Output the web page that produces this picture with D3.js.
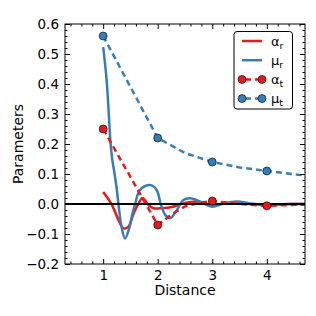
<!DOCTYPE html>
<html>
<head>
<meta charset="utf-8">
<script src="https://cdn.jsdelivr.net/npm/d3@7"></script>
<style>
  body { margin:0; background:#fff; }
  svg text { font-family:"DejaVu Sans", sans-serif; fill:#000; }
</style>
</head>
<body>
<div id="chart"></div>
<script>
// solid curves
var alphaR = [[1.0,0.04],[1.08,0.02],[1.16,-0.003],[1.28,-0.053],[1.37,-0.081],[1.46,-0.076],
              [1.56,-0.031],[1.65,0.002],[1.72,0.02],[1.83,-0.003],[1.92,-0.014],[2.08,-0.014],
              [2.26,-0.01],[2.47,0.002],[2.72,0.008],[2.96,-0.003],[3.27,0.002],[3.6,0.001],
              [4.0,-0.002],[4.4,0],[4.7,0]]
var muR    = [[1.0,0.523],[1.06,0.42],[1.10,0.31],[1.13,0.215],[1.165,0.15],[1.205,0.105],
              [1.245,0.055],[1.28,0.0],[1.33,-0.07],[1.40,-0.115],[1.48,-0.08],[1.53,-0.037],[1.59,0.003],
              [1.66,0.043],[1.77,0.06],[1.89,0.062],[1.985,0.045],[2.06,-0.003],[2.14,-0.037],
              [2.23,-0.047],[2.35,-0.02],[2.47,0.013],[2.60,0.019],[2.78,0.008],[2.99,-0.009],
              [3.21,0.002],[3.45,0.008],[3.70,0.002],[3.88,-0.003],[4.16,-0.003],[4.43,0],[4.7,0]]
// dashed curves
var alphaTLine = [[1,0.25],[2,-0.07],[2.25,-0.035],[2.5,-0.008],[2.75,0.003],[3,0.01],[3.5,0.0],[4,-0.006],[4.7,-0.002]]
var muTLine    = [[1,0.56],[2,0.22],[2.5,0.17],[3,0.14],[3.5,0.122],[4,0.11],[4.7,0.095]]
// markers
var distances = [1, 2, 3, 4]
var alphaT = [0.25, -0.07, 0.01, -0.006]
var muT    = [0.56, 0.22, 0.14, 0.11]

var xTicks = [1, 2, 3, 4]
var yTicks = [-0.2, -0.1, 0.0, 0.1, 0.2, 0.3, 0.4, 0.5, 0.6]

var red  = '#e41a1c'
var blue = '#377eb8'

var W = 316, H = 316
var m = { top:24, right:11, bottom:52, left:65 }

var svg = d3.select('#chart').append('svg')
    .attr('width', W).attr('height', H)

var x = d3.scaleLinear().domain([0.3, 4.7]).range([m.left, W-m.right])
var y = d3.scaleLinear().domain([-0.2, 0.6]).range([H-m.bottom, m.top])

var line = d3.line().x(d=> x(d[0])).y(d=> y(d[1]))
var smooth = d3.line().x(d=> x(d[0])).y(d=> y(d[1])).curve(d3.curveCatmullRom.alpha(0.5))

svg.append('clipPath').attr('id', 'clip')
  .append('rect')
    .attr('x', m.left).attr('y', m.top)
    .attr('width', W-m.left-m.right).attr('height', H-m.top-m.bottom)

var box = svg.append('g').attr('clip-path', 'url(#clip)')

box.append('path').datum(alphaR)
    .attr('d', smooth).attr('fill', 'none')
    .attr('stroke', red).attr('stroke-width', 2.5)
box.append('path').datum(muR)
    .attr('d', smooth).attr('fill', 'none')
    .attr('stroke', blue).attr('stroke-width', 2.5)

box.append('path').datum(alphaTLine)
    .attr('d', line).attr('fill', 'none')
    .attr('stroke', red).attr('stroke-width', 2.5)
    .attr('stroke-dasharray', '6 4')
box.append('path').datum(muTLine)
    .attr('d', line).attr('fill', 'none')
    .attr('stroke', blue).attr('stroke-width', 2.5)
    .attr('stroke-dasharray', '6 4')

// zero line
box.append('line')
    .attr('x1', m.left).attr('x2', W-m.right)
    .attr('y1', y(0)).attr('y2', y(0))
    .attr('stroke', '#000').attr('stroke-width', 2)

function dots(vals, c) {
    box.selectAll(null).data(vals).enter().append('circle')
        .attr('cx', (d,i)=> x(distances[i]))
        .attr('cy', d=> y(d))
        .attr('r', 4)
        .attr('fill', c)
        .attr('stroke', '#000').attr('stroke-width', 0.6)
}
dots(alphaT, red)
dots(muT, blue)

// axes: ticks inward on all four sides
var xMinor = d3.range(0.4, 4.71, 0.2).filter(v=> Math.abs(v - Math.round(v)) > 0.01)
var yMinor = d3.range(-0.2, 0.601, 0.02).filter(v=> Math.abs(v*10 - Math.round(v*10)) > 0.01)

function addAxis(gen, tr, major, minor, labels) {
    var g = svg.append('g').attr('transform', tr)
    g.call(gen.scale(major.scale).tickValues(minor).tickSize(-2.5).tickFormat(''))
    g.select('.domain').remove()
    var g2 = svg.append('g').attr('transform', tr)
    g2.call(gen.scale(major.scale).tickValues(major.values).tickSize(-5)
        .tickPadding(labels ? 6 : 0)
        .tickFormat(labels ? major.fmt : ''))
    g2.select('.domain').remove()
    g2.selectAll('text').attr('font-size', '13.5px')
    svg.selectAll('.tick line').attr('stroke', '#000')
}
addAxis(d3.axisBottom(), 'translate(0,'+(H-m.bottom)+')', { scale:x, values:xTicks, fmt:d3.format('d') }, xMinor, true)
addAxis(d3.axisTop(),    'translate(0,'+m.top+')',        { scale:x, values:xTicks }, xMinor, false)
addAxis(d3.axisLeft(),   'translate('+m.left+',0)',       { scale:y, values:yTicks, fmt:d=> d3.format('.1f')(d).replace('-', '\u2212') }, yMinor, true)
addAxis(d3.axisRight(),  'translate('+(W-m.right)+',0)',  { scale:y, values:yTicks }, yMinor, false)

svg.append('rect')
    .attr('x', m.left).attr('y', m.top)
    .attr('width', W-m.left-m.right).attr('height', H-m.top-m.bottom)
    .attr('fill', 'none').attr('stroke', '#000').attr('stroke-width', 1)

svg.append('text')
    .attr('x', (m.left + W-m.right)/2).attr('y', 295)
    .attr('text-anchor', 'middle').attr('font-size', '14px')
    .text('Distance')
svg.append('text')
    .attr('transform', 'translate(23,'+((m.top + H-m.bottom)/2)+') rotate(-90)')
    .attr('text-anchor', 'middle').attr('font-size', '14px')
    .text('Parameters')

// legend
var legend = [
    { name:'\u03b1', sub:'r', c:red,  marker:false },
    { name:'\u03bc', sub:'r', c:blue, marker:false },
    { name:'\u03b1', sub:'t', c:red,  marker:true },
    { name:'\u03bc', sub:'t', c:blue, marker:true }
]
var lg = svg.append('g')
lg.append('rect')
    .attr('x', 234).attr('y', 31.5).attr('width', 58.5).attr('height', 77.5)
    .attr('rx', 3).attr('fill', '#fff')
    .attr('stroke', '#000').attr('stroke-width', 1)
legend.forEach(function(d, i) {
    var ly = 41 + i*19.2
    lg.append('line')
        .attr('x1', 242).attr('x2', 262).attr('y1', ly).attr('y2', ly)
        .attr('stroke', d.c).attr('stroke-width', 2.5)
        .attr('stroke-dasharray', d.marker ? '6 4' : null)
        .attr('stroke-dashoffset', d.marker ? -3 : null)
    if (d.marker) {
        [242, 262].forEach(function(cx) {
            lg.append('circle').attr('cx', cx).attr('cy', ly).attr('r', 4)
                .attr('fill', d.c).attr('stroke', '#000').attr('stroke-width', 0.6)
        })
    }
    var t = lg.append('text').attr('x', 271).attr('y', ly + 4.5).attr('font-size', '13px')
    t.append('tspan').text(d.name)
    t.append('tspan').attr('font-size', '9.5px').attr('dy', 3).text(d.sub)
})
</script>
</body>
</html>
